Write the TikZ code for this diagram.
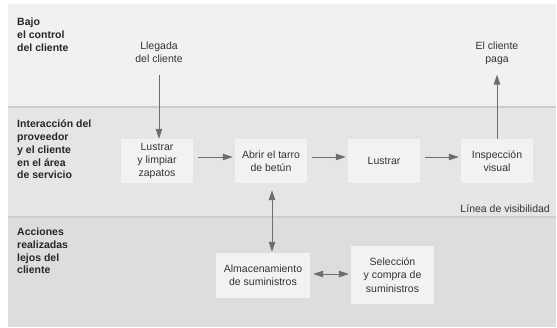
\documentclass[tikz,border=0pt]{standalone}
\usepackage{fontspec}
\setmainfont{Liberation Sans}
\usetikzlibrary{arrows.meta}
\definecolor{bandA}{HTML}{F0F1F3}
\definecolor{bandB}{HTML}{E4E5E7}
\definecolor{bandC}{HTML}{DCDDDF}
\definecolor{sepline}{HTML}{CCCDCF}
\definecolor{boxfill}{HTML}{F1F2F4}
\definecolor{txt}{HTML}{333333}
\definecolor{arrgray}{HTML}{6E6E6E}
\tikzset{
  stepbox/.style={fill=boxfill, draw=none, align=center, text=txt, inner sep=2pt,
    font=\fontsize{10.5}{13.2}\selectfont},
  plain/.style={align=center, text=txt, inner sep=0pt, font=\fontsize{10.5}{13.2}\selectfont},
  lanelabel/.style={align=left, anchor=north west, inner sep=0pt, text=black!85,
    font=\bfseries\fontsize{10.5}{12.7}\selectfont},
  arr/.style={draw=arrgray, line width=1pt, -{Triangle[length=10pt,width=6.5pt]}},
  darr/.style={draw=arrgray, line width=1pt, {Triangle[length=10pt,width=6.5pt]}-{Triangle[length=10pt,width=6.5pt]}},
}
\begin{document}
\begin{tikzpicture}[x=1pt,y=-1pt]
\useasboundingbox (0,0) rectangle (557,327);
\fill[white] (0,0) rectangle (557,327);
% bands
\fill[bandA] (8,4) rectangle (556,106);
\fill[bandB] (8,106) rectangle (556,217);
\fill[bandC] (8,217) rectangle (556,327);
\fill[sepline] (8,105.5) rectangle (556,107.5);
\fill[sepline] (8,216) rectangle (556,218);
% lane labels
\node[lanelabel] (l1) at (17,18) {Bajo\\el control\\del cliente};
\node[lanelabel] (l2) at (17,120) {Interacción del\\proveedor\\y el cliente\\en el área\\de servicio};
\node[lanelabel] (l3) at (17,228) {Acciones\\realizadas\\lejos del\\cliente};
% top texts
\node[plain] (lleg) at (159,52) {Llegada\\del cliente};
\node[plain] (paga) at (497,53) {El cliente\\paga};
% boxes
\node[stepbox, minimum width=72pt, minimum height=44pt] (b1) at (157,161) {Lustrar\\y limpiar\\zapatos};
\node[stepbox, minimum width=72pt, minimum height=44pt] (b2) at (271,161) {Abrir el tarro\\de betún};
\node[stepbox, minimum width=72pt, minimum height=44pt] (b3) at (384,161) {Lustrar};
\node[stepbox, minimum width=72pt, minimum height=44pt] (b4) at (497,161) {Inspección\\visual};
\node[stepbox, minimum width=94pt, minimum height=45pt] (b5) at (263,275.5) {Almacenamiento\\de suministros};
\node[stepbox, minimum width=83pt, minimum height=58pt] (b6) at (392.5,275) {Selección\\y compra de\\suministros};
% visibility label
\node[plain, anchor=east] (vis) at (550,209) {Línea de visibilidad};
% connectors
\draw[arr, shorten <=12pt] (lleg.south) -- (lleg.south |- b1.north);
\draw[arr, shorten >=10pt] (b4.north) -- (b4.north |- paga.south);
\draw[arr, shorten <=5pt, shorten >=2pt] ([yshift=4pt]b1.east) -- ([yshift=4pt]b2.west);
\draw[arr, shorten <=5pt, shorten >=2pt] ([yshift=4pt]b2.east) -- ([yshift=4pt]b3.west);
\draw[arr, shorten <=5pt, shorten >=2pt] ([yshift=4pt]b3.east) -- ([yshift=4pt]b4.west);
\draw[darr, shorten <=7pt, shorten >=1pt] ([xshift=1pt]b2.south) -- ([xshift=1pt]b2.south |- b5.north);
\draw[darr, shorten <=3pt, shorten >=2pt] ([yshift=1.5pt]b5.east) -- ([yshift=1.5pt]b5.east -| b6.west);
\end{tikzpicture}
\end{document}
